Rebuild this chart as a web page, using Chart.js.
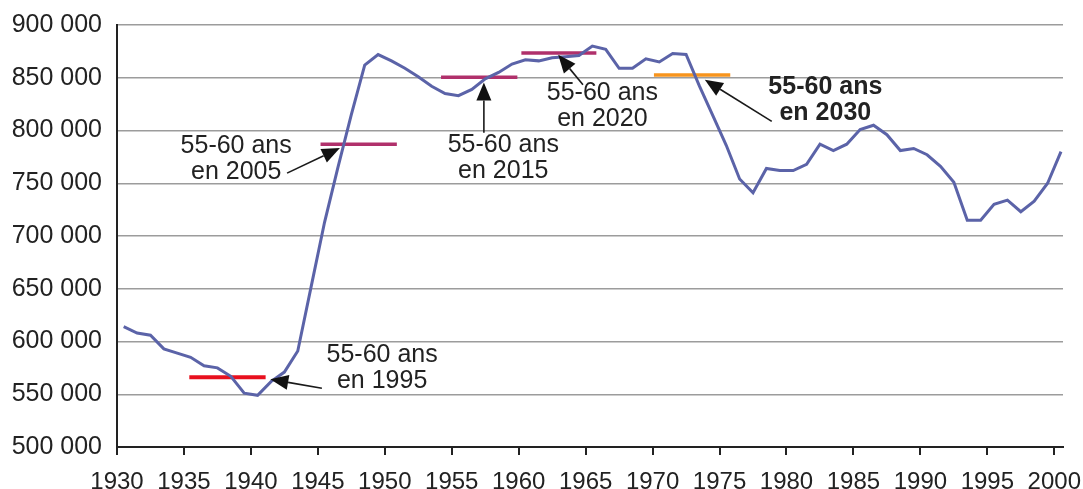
<!DOCTYPE html>
<html>
<head>
<meta charset="utf-8">
<script src="https://cdn.jsdelivr.net/npm/chart.js@4.4.1/dist/chart.umd.min.js"></script>
<style>
  body { margin: 0; background: #fff; }
  #wrap { width: 1083px; height: 489px; }
</style>
</head>
<body>
<div id="wrap"><canvas id="births-chart" width="1083" height="489"></canvas></div>
<script>
// yearly values
var years = [
  1930, 1931, 1932, 1933, 1934, 1935, 1936, 1937, 1938, 1939,
  1940, 1941, 1942, 1943, 1944, 1945, 1946, 1947, 1948, 1949,
  1950, 1951, 1952, 1953, 1954, 1955, 1956, 1957, 1958, 1959,
  1960, 1961, 1962, 1963, 1964, 1965, 1966, 1967, 1968, 1969,
  1970, 1971, 1972, 1973, 1974, 1975, 1976, 1977, 1978, 1979,
  1980, 1981, 1982, 1983, 1984, 1985, 1986, 1987, 1988, 1989,
  1990, 1991, 1992, 1993, 1994, 1995, 1996, 1997, 1998, 1999,
  2000
];
var births = [
  614000, 608000, 606000, 593000, 589000, 585000, 577000, 575000, 567000, 551000,
  549000, 562000, 571000, 591000, 652000, 713000, 765000, 815000, 862000, 872000,
  866000, 859000, 851000, 842000, 835000, 833000, 839000, 849000, 855000, 863000,
  867000, 866000, 869000, 870000, 871000, 880000, 877000, 859000, 859000, 868000,
  865000, 873000, 872000, 842000, 814000, 786000, 754000, 741000, 764000, 762000,
  762000, 768000, 787000, 781000, 787000, 801000, 805000, 796000, 781000, 783000,
  777000, 766000, 751000, 715000, 715000, 730000, 734000, 723000, 733000, 750000,
  780000
];
var midYear = 0.5; // values are plotted in the middle of each year

var xTicks = [1930, 1935, 1940, 1945, 1950, 1955, 1960, 1965, 1970, 1975, 1980, 1985, 1990, 1995, 2000];
var yTicks = [500000, 550000, 600000, 650000, 700000, 750000, 800000, 850000, 900000];

// horizontal markers: generations reaching 55-60
var markerStart = [1935.4, 1945.2, 1954.2, 1960.2, 1970.1];
var markerEnd = [1941.1, 1950.9, 1959.9, 1965.8, 1975.8];
var markerLevel = [566000, 787000, 850500, 873500, 852500];
var markerColors = ["#e8101e", "#b0306b", "#b0306b", "#b0306b", "#f7941d"];

// callouts
var noteLines = [
  ["55-60 ans", "en 1995"],
  ["55-60 ans", "en 2005"],
  ["55-60 ans", "en 2015"],
  ["55-60 ans", "en 2020"],
  ["55-60 ans", "en 2030"]
];
var noteBold = [false, false, false, false, true];
var noteX = [1949.8, 1938.9, 1958.85, 1966.25, 1982.9];
var noteY = [574500, 772500, 773800, 823000, 828700];
var arrowFromX = [1945.3, 1942.7, 1957.4, 1964.8, 1978.9];
var arrowFromY = [555700, 759600, 797800, 843400, 808600];
var arrowToX = [1941.45, 1946.65, 1957.4, 1962.95, 1973.9];
var arrowToY = [564200, 783300, 845500, 871800, 848100];

var FONT = "'Liberation Sans', Arial, Helvetica, sans-serif";

function formatThousands(value) {
  return String(value).replace(/\B(?=(\d{3})+(?!\d))/g, " ");
}

function drawArrow(ctx, x1, y1, x2, y2) {
  const headLen = 18;
  const headHalf = 7.5;
  const angle = Math.atan2(y2 - y1, x2 - x1);
  const bx = x2 - headLen * Math.cos(angle);
  const by = y2 - headLen * Math.sin(angle);

  ctx.strokeStyle = "#1a1a1a";
  ctx.lineWidth = 1.6;
  ctx.beginPath();
  ctx.moveTo(x1, y1);
  ctx.lineTo(bx, by);
  ctx.stroke();

  ctx.fillStyle = "#111";
  ctx.beginPath();
  ctx.moveTo(x2, y2);
  ctx.lineTo(bx + headHalf * Math.sin(angle), by - headHalf * Math.cos(angle));
  ctx.lineTo(bx - headHalf * Math.sin(angle), by + headHalf * Math.cos(angle));
  ctx.closePath();
  ctx.fill();
}

// text + arrows drawn on top of the lines
var calloutPlugin = {
  id: "callouts",
  afterDatasetsDraw: function (chart) {
    const ctx = chart.ctx;
    const xs = chart.scales.x;
    const ys = chart.scales.y;
    ctx.save();
    noteLines.forEach(function (lines, i) {
      const cx = xs.getPixelForValue(noteX[i]);
      const cy = ys.getPixelForValue(noteY[i]);
      ctx.font = (noteBold[i] ? "bold " : "") + "25px " + FONT;
      ctx.fillStyle = "#222";
      ctx.textAlign = "center";
      ctx.textBaseline = "middle";
      ctx.fillText(lines[0], cx, cy - 13);
      ctx.fillText(lines[1], cx, cy + 13);

      drawArrow(
        ctx,
        xs.getPixelForValue(arrowFromX[i]),
        ys.getPixelForValue(arrowFromY[i]),
        xs.getPixelForValue(arrowToX[i]),
        ys.getPixelForValue(arrowToY[i])
      );
    });
    ctx.restore();
  },
};

var datasets = [
  {
    label: "Naissances",
    data: years.map((y, i) => ({ x: y + midYear, y: births[i] })),
    borderColor: "#5b63a8",
    borderWidth: 3,
    pointRadius: 0,
    tension: 0,
    order: 0,
  },
];

markerStart.forEach(function (start, i) {
  datasets.push({
    label: noteLines[i].join(" "),
    data: [
      { x: start, y: markerLevel[i] },
      { x: markerEnd[i], y: markerLevel[i] },
    ],
    borderColor: markerColors[i],
    borderWidth: i === 0 ? 4 : 3.5,
    pointRadius: 0,
    order: 1,
  });
});

const ctx = document.getElementById("births-chart").getContext("2d");
new Chart(ctx, {
  type: "line",
  data: { datasets: datasets },
  plugins: [calloutPlugin],
  options: {
    responsive: false,
    animation: false,
    layout: { padding: { top: 25, right: 20, left: 0, bottom: 0 } },
    plugins: {
      legend: { display: false },
      tooltip: { enabled: false },
    },
    scales: {
      x: {
        type: "linear",
        min: 1930,
        max: 2000.65,
        afterBuildTicks: function (scale) {
          scale.ticks = xTicks.map((v) => ({ value: v }));
        },
        afterFit: function (scale) {
          scale.height = 42;
          // keep the label overflow from shrinking the plot
          scale.paddingLeft = 0;
          scale.paddingRight = 0;
        },
        grid: {
          drawOnChartArea: false,
          drawTicks: true,
          tickLength: 8,
          color: "#222",
          lineWidth: 2,
        },
        border: { color: "#222", width: 2 },
        ticks: {
          padding: 13,
          color: "#222",
          maxRotation: 0,
          autoSkip: false,
          font: { family: FONT, size: 24 },
          callback: (value) => String(value),
        },
      },
      y: {
        min: 500000,
        max: 900000,
        afterBuildTicks: function (scale) {
          scale.ticks = yTicks.map((v) => ({ value: v }));
        },
        afterFit: function (scale) {
          scale.width = 117;
          scale.paddingTop = 0;
          scale.paddingBottom = 0;
        },
        grid: {
          color: "#9c9c9c",
          lineWidth: 1.5,
          drawTicks: false,
        },
        border: { color: "#222", width: 2 },
        ticks: {
          padding: 15,
          color: "#222",
          font: { family: FONT, size: 25 },
          callback: (value) => formatThousands(value),
        },
      },
    },
  },
});
</script>
</body>
</html>
